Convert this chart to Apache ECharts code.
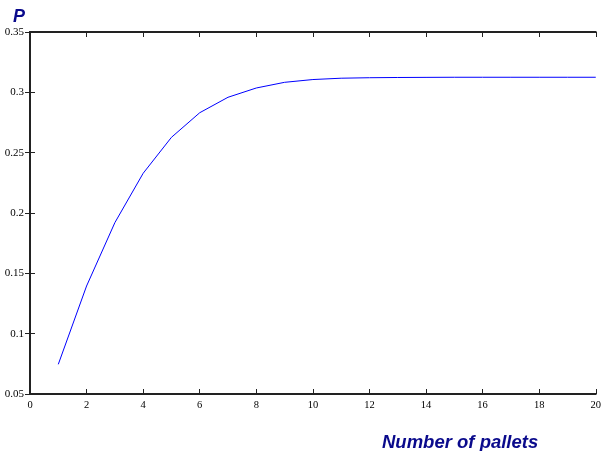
<!DOCTYPE html>
<html>
<head>
<meta charset="utf-8">
<script src="https://cdn.jsdelivr.net/npm/echarts@6/dist/echarts.min.js"></script>
<style>
  html, body { margin: 0; padding: 0; background: #fff; }
  #chart { width: 604px; height: 451px; }
</style>
</head>
<body>
<div id="chart"></div>
<script>
// Number of pallets vs. probability P
const pallets = [1, 2, 3, 4, 5, 6, 7, 8, 9, 10, 11, 12, 13, 14, 15, 16, 17, 18, 19, 20];
const probability = [0.0746, 0.1395, 0.1920, 0.2329, 0.2627, 0.2831, 0.2959, 0.3036, 0.3083, 0.3106,
                     0.3117, 0.3121, 0.3123, 0.3124, 0.3125, 0.3125, 0.3125, 0.3125, 0.3125, 0.3125];
const xTitle = 'Number of pallets';
const yTitle = 'P';

const axisColor = '#222';
const titleColor = '#0a0a8c';

const chart = echarts.init(document.getElementById('chart'), null, { renderer: 'canvas' });

const boxAxisLine = { show: true, lineStyle: { color: axisColor, width: 2 } };
const boxTick = { show: true, inside: true, length: 5, lineStyle: { color: axisColor, width: 1 } };

chart.setOption({
  animation: false,
  backgroundColor: '#fff',
  title: [
    { text: yTitle, left: 8, top: 3,
      textStyle: { fontFamily: 'Liberation Sans', fontSize: 18, fontWeight: 'bold', fontStyle: 'italic', color: titleColor } },
    { text: xTitle, left: 377, top: 428,
      textStyle: { fontFamily: 'Liberation Sans', fontSize: 18.5, fontWeight: 'bold', fontStyle: 'italic', color: titleColor } }
  ],
  grid: { left: 30, right: 7, top: 32, bottom: 57, containLabel: false },
  xAxis: [
    { type: 'value', position: 'bottom', min: 0, max: 20, interval: 2,
      axisLine: boxAxisLine, axisTick: boxTick, splitLine: { show: false },
      axisLabel: { margin: 6, fontFamily: 'Liberation Serif', fontSize: 10.5, color: '#000' } },
    { type: 'value', position: 'top', min: 0, max: 20, interval: 2,
      axisLine: boxAxisLine, axisTick: boxTick, splitLine: { show: false },
      axisLabel: { show: false } }
  ],
  yAxis: [
    { type: 'value', position: 'left', min: 0.05, max: 0.35, interval: 0.05,
      axisLine: boxAxisLine, axisTick: boxTick, splitLine: { show: false },
      axisLabel: { margin: 6, fontFamily: 'Liberation Serif', fontSize: 11, color: '#000',
                   formatter: v => String(+v.toFixed(2)) } },
    { type: 'value', position: 'right', min: 0.05, max: 0.35, interval: 0.05,
      axisLine: boxAxisLine, axisTick: boxTick, splitLine: { show: false },
      axisLabel: { show: false } }
  ],
  series: [{
    type: 'line',
    xAxisIndex: 0,
    yAxisIndex: 0,
    data: pallets.map((p, i) => [p, probability[i]]),
    showSymbol: false,
    lineStyle: { color: '#0000ff', width: 1 }
  }]
});
</script>
</body>
</html>
